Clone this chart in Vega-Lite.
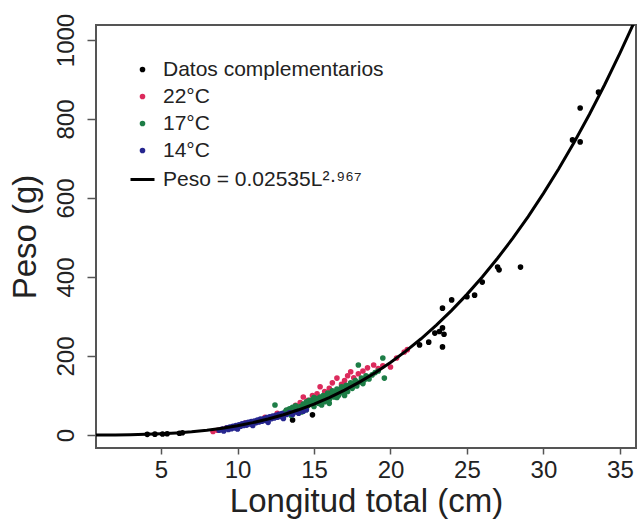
{
  "$schema": "https://vega.github.io/schema/vega-lite/v6.json",
  "width": 540,
  "height": 423,
  "autosize": {"type": "none"},
  "padding": {"left": 96, "top": 25, "right": 2, "bottom": 74},
  "config": {
    "font": "Liberation Sans",
    "view": {"stroke": "#555", "strokeWidth": 2},
    "axis": {"grid": false, "domain": false, "tickColor": "#555", "tickWidth": 1.5, "labelColor": "#222", "titleColor": "#222", "labelFont": "Liberation Sans", "titleFont": "Liberation Sans", "titleFontWeight": "normal", "labelFontSize": 24, "titleFontSize": 33}
  },
  "datasets": {
    "puntos": [
      {"L": 4.1, "W": 1.5, "g": "Datos complementarios"},
      {"L": 4.6, "W": 2, "g": "Datos complementarios"},
      {"L": 5.1, "W": 2.5, "g": "Datos complementarios"},
      {"L": 5.4, "W": 3, "g": "Datos complementarios"},
      {"L": 6.2, "W": 4.5, "g": "Datos complementarios"},
      {"L": 6.4, "W": 5.5, "g": "Datos complementarios"},
      {"L": 13.6, "W": 38, "g": "Datos complementarios"},
      {"L": 14.9, "W": 51, "g": "Datos complementarios"},
      {"L": 21.9, "W": 228, "g": "Datos complementarios"},
      {"L": 22.5, "W": 235, "g": "Datos complementarios"},
      {"L": 22.9, "W": 258, "g": "Datos complementarios"},
      {"L": 23.2, "W": 262, "g": "Datos complementarios"},
      {"L": 23.4, "W": 271, "g": "Datos complementarios"},
      {"L": 23.5, "W": 255, "g": "Datos complementarios"},
      {"L": 23.4, "W": 223, "g": "Datos complementarios"},
      {"L": 23.4, "W": 321, "g": "Datos complementarios"},
      {"L": 24.0, "W": 342, "g": "Datos complementarios"},
      {"L": 25.0, "W": 350, "g": "Datos complementarios"},
      {"L": 25.5, "W": 354, "g": "Datos complementarios"},
      {"L": 26.0, "W": 387, "g": "Datos complementarios"},
      {"L": 27.0, "W": 425, "g": "Datos complementarios"},
      {"L": 27.1, "W": 418, "g": "Datos complementarios"},
      {"L": 28.5, "W": 425, "g": "Datos complementarios"},
      {"L": 31.9, "W": 747, "g": "Datos complementarios"},
      {"L": 32.4, "W": 742, "g": "Datos complementarios"},
      {"L": 32.4, "W": 828, "g": "Datos complementarios"},
      {"L": 33.6, "W": 868, "g": "Datos complementarios"},

      {"L": 8.4, "W": 9, "g": "22°C"},
      {"L": 8.7, "W": 12, "g": "22°C"},
      {"L": 9.0, "W": 14, "g": "22°C"},
      {"L": 9.3, "W": 18, "g": "22°C"},
      {"L": 10.5, "W": 30, "g": "22°C"},
      {"L": 11.8, "W": 45, "g": "22°C"},
      {"L": 12.6, "W": 55, "g": "22°C"},
      {"L": 13.2, "W": 62, "g": "22°C"},
      {"L": 13.8, "W": 75, "g": "22°C"},
      {"L": 14.1, "W": 82, "g": "22°C"},
      {"L": 14.3, "W": 96, "g": "22°C"},
      {"L": 14.6, "W": 88, "g": "22°C"},
      {"L": 14.9, "W": 100, "g": "22°C"},
      {"L": 15.2, "W": 104, "g": "22°C"},
      {"L": 15.4, "W": 122, "g": "22°C"},
      {"L": 15.5, "W": 90, "g": "22°C"},
      {"L": 15.7, "W": 110, "g": "22°C"},
      {"L": 16.0, "W": 118, "g": "22°C"},
      {"L": 16.2, "W": 132, "g": "22°C"},
      {"L": 16.4, "W": 105, "g": "22°C"},
      {"L": 16.5, "W": 144, "g": "22°C"},
      {"L": 16.8, "W": 128, "g": "22°C"},
      {"L": 17.0, "W": 138, "g": "22°C"},
      {"L": 17.2, "W": 150, "g": "22°C"},
      {"L": 17.4, "W": 160, "g": "22°C"},
      {"L": 17.6, "W": 145, "g": "22°C"},
      {"L": 17.8, "W": 130, "g": "22°C"},
      {"L": 17.9, "W": 155, "g": "22°C"},
      {"L": 18.2, "W": 162, "g": "22°C"},
      {"L": 18.5, "W": 170, "g": "22°C"},
      {"L": 18.9, "W": 177, "g": "22°C"},
      {"L": 19.2, "W": 168, "g": "22°C"},
      {"L": 19.5, "W": 175, "g": "22°C"},
      {"L": 20.0, "W": 172, "g": "22°C"},
      {"L": 20.4, "W": 195, "g": "22°C"},
      {"L": 20.9, "W": 210, "g": "22°C"},
      {"L": 21.1, "W": 216, "g": "22°C"},

      {"L": 12.45, "W": 76, "g": "17°C"},
      {"L": 13.0, "W": 50, "g": "17°C"},
      {"L": 13.1, "W": 58, "g": "17°C"},
      {"L": 13.2, "W": 63, "g": "17°C"},
      {"L": 13.3, "W": 55, "g": "17°C"},
      {"L": 13.4, "W": 66, "g": "17°C"},
      {"L": 13.5, "W": 60, "g": "17°C"},
      {"L": 13.5, "W": 50, "g": "17°C"},
      {"L": 13.6, "W": 70, "g": "17°C"},
      {"L": 13.7, "W": 62, "g": "17°C"},
      {"L": 13.8, "W": 74, "g": "17°C"},
      {"L": 13.9, "W": 68, "g": "17°C"},
      {"L": 14.0, "W": 60, "g": "17°C"},
      {"L": 14.1, "W": 72, "g": "17°C"},
      {"L": 14.2, "W": 66, "g": "17°C"},
      {"L": 14.2, "W": 58, "g": "17°C"},
      {"L": 14.3, "W": 78, "g": "17°C"},
      {"L": 14.4, "W": 70, "g": "17°C"},
      {"L": 14.5, "W": 84, "g": "17°C"},
      {"L": 14.5, "W": 64, "g": "17°C"},
      {"L": 14.6, "W": 74, "g": "17°C"},
      {"L": 14.7, "W": 88, "g": "17°C"},
      {"L": 14.8, "W": 80, "g": "17°C"},
      {"L": 14.9, "W": 89, "g": "17°C"},
      {"L": 15.0, "W": 72, "g": "17°C"},
      {"L": 15.0, "W": 95, "g": "17°C"},
      {"L": 15.1, "W": 85, "g": "17°C"},
      {"L": 15.2, "W": 92, "g": "17°C"},
      {"L": 15.3, "W": 80, "g": "17°C"},
      {"L": 15.4, "W": 96, "g": "17°C"},
      {"L": 15.5, "W": 88, "g": "17°C"},
      {"L": 15.5, "W": 76, "g": "17°C"},
      {"L": 15.6, "W": 100, "g": "17°C"},
      {"L": 15.7, "W": 84, "g": "17°C"},
      {"L": 15.8, "W": 98, "g": "17°C"},
      {"L": 15.9, "W": 106, "g": "17°C"},
      {"L": 16.0, "W": 90, "g": "17°C"},
      {"L": 16.0, "W": 80, "g": "17°C"},
      {"L": 16.1, "W": 102, "g": "17°C"},
      {"L": 16.2, "W": 112, "g": "17°C"},
      {"L": 16.3, "W": 96, "g": "17°C"},
      {"L": 16.4, "W": 108, "g": "17°C"},
      {"L": 16.5, "W": 116, "g": "17°C"},
      {"L": 16.5, "W": 95, "g": "17°C"},
      {"L": 16.6, "W": 100, "g": "17°C"},
      {"L": 16.7, "W": 112, "g": "17°C"},
      {"L": 16.8, "W": 122, "g": "17°C"},
      {"L": 16.9, "W": 106, "g": "17°C"},
      {"L": 17.0, "W": 118, "g": "17°C"},
      {"L": 17.0, "W": 100, "g": "17°C"},
      {"L": 17.1, "W": 126, "g": "17°C"},
      {"L": 17.2, "W": 110, "g": "17°C"},
      {"L": 17.3, "W": 122, "g": "17°C"},
      {"L": 17.4, "W": 132, "g": "17°C"},
      {"L": 17.5, "W": 118, "g": "17°C"},
      {"L": 17.6, "W": 128, "g": "17°C"},
      {"L": 17.7, "W": 138, "g": "17°C"},
      {"L": 17.8, "W": 124, "g": "17°C"},
      {"L": 17.9, "W": 177, "g": "17°C"},
      {"L": 18.0, "W": 134, "g": "17°C"},
      {"L": 18.1, "W": 144, "g": "17°C"},
      {"L": 18.2, "W": 130, "g": "17°C"},
      {"L": 18.3, "W": 140, "g": "17°C"},
      {"L": 18.4, "W": 150, "g": "17°C"},
      {"L": 18.5, "W": 147, "g": "17°C"},
      {"L": 18.6, "W": 142, "g": "17°C"},
      {"L": 18.8, "W": 152, "g": "17°C"},
      {"L": 19.0, "W": 158, "g": "17°C"},
      {"L": 19.2, "W": 162, "g": "17°C"},
      {"L": 19.5, "W": 195, "g": "17°C"},
      {"L": 19.6, "W": 144, "g": "17°C"},

      {"L": 8.8, "W": 12, "g": "14°C"},
      {"L": 9.0, "W": 15, "g": "14°C"},
      {"L": 9.1, "W": 10, "g": "14°C"},
      {"L": 9.3, "W": 18, "g": "14°C"},
      {"L": 9.4, "W": 14, "g": "14°C"},
      {"L": 9.5, "W": 20, "g": "14°C"},
      {"L": 9.6, "W": 16, "g": "14°C"},
      {"L": 9.7, "W": 22, "g": "14°C"},
      {"L": 9.8, "W": 18, "g": "14°C"},
      {"L": 9.9, "W": 24, "g": "14°C"},
      {"L": 10.0, "W": 20, "g": "14°C"},
      {"L": 10.0, "W": 15, "g": "14°C"},
      {"L": 10.1, "W": 26, "g": "14°C"},
      {"L": 10.2, "W": 22, "g": "14°C"},
      {"L": 10.3, "W": 28, "g": "14°C"},
      {"L": 10.4, "W": 24, "g": "14°C"},
      {"L": 10.5, "W": 30, "g": "14°C"},
      {"L": 10.6, "W": 25, "g": "14°C"},
      {"L": 10.7, "W": 32, "g": "14°C"},
      {"L": 10.8, "W": 28, "g": "14°C"},
      {"L": 10.9, "W": 34, "g": "14°C"},
      {"L": 11.0, "W": 30, "g": "14°C"},
      {"L": 11.0, "W": 24, "g": "14°C"},
      {"L": 11.1, "W": 35, "g": "14°C"},
      {"L": 11.2, "W": 31, "g": "14°C"},
      {"L": 11.3, "W": 38, "g": "14°C"},
      {"L": 11.4, "W": 33, "g": "14°C"},
      {"L": 11.5, "W": 40, "g": "14°C"},
      {"L": 11.6, "W": 35, "g": "14°C"},
      {"L": 11.7, "W": 41, "g": "14°C"},
      {"L": 11.8, "W": 37, "g": "14°C"},
      {"L": 11.9, "W": 44, "g": "14°C"},
      {"L": 12.0, "W": 39, "g": "14°C"},
      {"L": 12.0, "W": 32, "g": "14°C"},
      {"L": 12.1, "W": 46, "g": "14°C"},
      {"L": 12.2, "W": 41, "g": "14°C"},
      {"L": 12.3, "W": 48, "g": "14°C"},
      {"L": 12.4, "W": 43, "g": "14°C"},
      {"L": 12.5, "W": 50, "g": "14°C"},
      {"L": 12.6, "W": 45, "g": "14°C"},
      {"L": 12.7, "W": 52, "g": "14°C"},
      {"L": 12.8, "W": 47, "g": "14°C"},
      {"L": 12.9, "W": 54, "g": "14°C"},
      {"L": 13.0, "W": 48, "g": "14°C"},
      {"L": 13.0, "W": 42, "g": "14°C"},
      {"L": 13.2, "W": 52, "g": "14°C"},
      {"L": 13.4, "W": 56, "g": "14°C"},
      {"L": 13.6, "W": 52, "g": "14°C"},
      {"L": 13.8, "W": 58, "g": "14°C"},
      {"L": 14.0, "W": 55, "g": "14°C"},
      {"L": 14.3, "W": 60, "g": "14°C"},
      {"L": 14.5, "W": 64, "g": "14°C"}
    ],
    "curva": [
      {"L": 0.75, "W": 0.011},
      {"L": 1, "W": 0.025},
      {"L": 2, "W": 0.198},
      {"L": 3, "W": 0.66},
      {"L": 4, "W": 1.55},
      {"L": 5, "W": 3.0},
      {"L": 6, "W": 5.16},
      {"L": 7, "W": 8.15},
      {"L": 8, "W": 12.12},
      {"L": 9, "W": 17.19},
      {"L": 10, "W": 23.5},
      {"L": 11, "W": 31.18},
      {"L": 12, "W": 40.37},
      {"L": 13, "W": 51.17},
      {"L": 14, "W": 63.77},
      {"L": 15, "W": 78.27},
      {"L": 16, "W": 94.77},
      {"L": 17, "W": 113.43},
      {"L": 18, "W": 134.39},
      {"L": 19, "W": 157.7},
      {"L": 20, "W": 183.6},
      {"L": 21, "W": 212.23},
      {"L": 22, "W": 243.6},
      {"L": 23, "W": 277.96},
      {"L": 24, "W": 315.4},
      {"L": 25, "W": 356.0},
      {"L": 26, "W": 399.9},
      {"L": 27, "W": 447.4},
      {"L": 28, "W": 498.3},
      {"L": 29, "W": 553.0},
      {"L": 30, "W": 611.6},
      {"L": 31, "W": 673.9},
      {"L": 32, "W": 740.5},
      {"L": 33, "W": 811.3},
      {"L": 34, "W": 886.7},
      {"L": 35, "W": 966.6},
      {"L": 36, "W": 1050.8}
    ]
  },
  "layer": [
    {
      "data": {"name": "puntos"},
      "mark": {"type": "point", "filled": true, "opacity": 1},
      "encoding": {
        "x": {
          "field": "L", "type": "quantitative",
          "scale": {"domain": [0.75, 36.05], "nice": false, "zero": false},
          "axis": {"title": "Longitud total (cm)", "values": [5, 10, 15, 20, 25, 30, 35], "tickSize": 6, "labelPadding": 4, "labelBaseline": "top", "titleBaseline": "alphabetic", "titleY": 63}
        },
        "y": {
          "field": "W", "type": "quantitative",
          "scale": {"domain": [-33, 1038], "nice": false, "zero": false},
          "axis": {"title": "Peso (g)", "format": "d", "values": [0, 200, 400, 600, 800, 1000], "tickSize": 9, "labelAngle": -90, "labelAlign": "center", "labelBaseline": "alphabetic", "labelPadding": 14, "titleAngle": -90, "titleBaseline": "alphabetic", "titleX": -61}
        },
        "color": {
          "field": "g", "type": "nominal",
          "scale": {
            "domain": ["Datos complementarios", "22°C", "17°C", "14°C", "Peso = 0.02535L²·⁹⁶⁷"],
            "range": ["#000000", "#dc2a5c", "#1d7d46", "#26268f", "#000000"]
          },
          "legend": {
            "title": null,
            "orient": "none",
            "legendX": 33,
            "legendY": 34,
            "labelFontSize": 21,
            "labelColor": "#222",
            "labelFont": "Liberation Sans",
            "labelOffset": 7,
            "rowPadding": 5,
            "labelLimit": 400
          }
        },
        "stroke": {
          "field": "g", "type": "nominal",
          "scale": {
            "domain": ["Datos complementarios", "22°C", "17°C", "14°C", "Peso = 0.02535L²·⁹⁶⁷"],
            "range": ["#000000", "#dc2a5c", "#1d7d46", "#26268f", "#000000"]
          }
        },
        "shape": {
          "field": "g", "type": "nominal",
          "scale": {
            "domain": ["Datos complementarios", "22°C", "17°C", "14°C", "Peso = 0.02535L²·⁹⁶⁷"],
            "range": ["circle", "circle", "circle", "circle", "stroke"]
          }
        },
        "size": {
          "field": "g", "type": "nominal",
          "scale": {
            "type": "ordinal",
            "domain": ["Datos complementarios", "22°C", "17°C", "14°C", "Peso = 0.02535L²·⁹⁶⁷"],
            "range": [17, 17, 17, 17, 576]
          }
        },
        "strokeWidth": {
          "field": "g", "type": "nominal",
          "scale": {
            "type": "ordinal",
            "domain": ["Datos complementarios", "22°C", "17°C", "14°C", "Peso = 0.02535L²·⁹⁶⁷"],
            "range": [1.5, 1.5, 1.5, 1.5, 3]
          }
        }
      }
    },
    {
      "data": {"name": "curva"},
      "mark": {"type": "line", "color": "#000000", "strokeWidth": 3, "clip": true},
      "encoding": {
        "x": {"field": "L", "type": "quantitative"},
        "y": {"field": "W", "type": "quantitative"}
      }
    }
  ]
}
